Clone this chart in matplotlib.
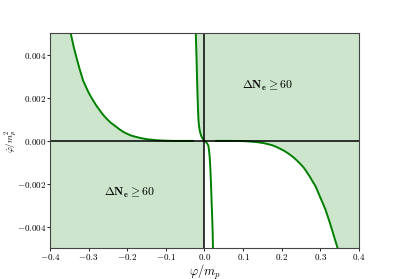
import numpy as np
import matplotlib
matplotlib.use('Agg')
import matplotlib.pyplot as plt
from matplotlib.ticker import FuncFormatter

plt.rcParams['mathtext.fontset'] = 'cm'
plt.rcParams['font.family'] = 'serif'
plt.rcParams['font.serif'] = ['DejaVu Serif']

# curves (phi, phidot)
left_x = [-0.40, -0.346, -0.338, -0.330, -0.322, -0.314, -0.307, -0.300, -0.294, -0.288, -0.279, -0.270, -0.262, -0.253,
          -0.242, -0.230, -0.220, -0.210, -0.200, -0.190, -0.178, -0.167, -0.156, -0.145, -0.134, -0.124, -0.112, -0.100,
          -0.080, -0.060, -0.030]
left_y = [0.0060, 0.0050, 0.00435, 0.0038, 0.00328, 0.00281, 0.00253, 0.00226, 0.00206, 0.00188, 0.00162, 0.00140, 0.00121, 0.00103,
          0.00084, 0.00068, 0.00054, 0.00042, 0.00033, 0.00025, 0.00019, 0.00014, 0.00010, 0.00007, 0.00005, 0.00003, 0.00002, 0.00001,
          0.0, 0.0, 0.0]

steep_x = [-0.0225, -0.0215, -0.0205, -0.0195, -0.0186, -0.0178, -0.0170, -0.0163, -0.0155, -0.0142, -0.0125, -0.0105, -0.0080,
           -0.0050, -0.0020, 0.0, 0.0030, 0.0065, 0.0099, 0.0118, 0.0134, 0.0146, 0.0157, 0.0168, 0.0180, 0.0192, 0.0202, 0.0212, 0.0220]
steep_y = [0.0050, 0.0044, 0.0038, 0.0031, 0.0025, 0.0020, 0.0016, 0.00125, 0.00095, 0.00070, 0.00050, 0.00035, 0.00022,
           0.00011, 0.00003, 0.0, -0.00004, -0.00011, -0.00021, -0.00045, -0.00075, -0.0011, -0.0015, -0.0020, -0.0026, -0.0032, -0.0037, -0.0043, -0.0050]

right_x = [0.030, 0.066, 0.100, 0.120, 0.137, 0.152, 0.164, 0.175, 0.186, 0.195, 0.207, 0.218, 0.229, 0.239, 0.248, 0.257,
           0.265, 0.273, 0.280, 0.287, 0.293, 0.299, 0.306, 0.313, 0.319, 0.325, 0.331, 0.336, 0.340, 0.344, 0.36]
right_y = [0.0, 0.0, -0.00001, -0.00003, -0.00006, -0.0001, -0.00015, -0.0002, -0.00028, -0.00036, -0.00047, -0.0006, -0.00075, -0.00091, -0.00107, -0.00125,
           -0.00146, -0.00168, -0.0019, -0.0021, -0.00235, -0.00261, -0.0029, -0.0032, -0.00352, -0.00385, -0.0042, -0.0045, -0.00473, -0.00497, -0.0060]

xticks = [-0.4, -0.3, -0.2, -0.1, 0.0, 0.1, 0.2, 0.3, 0.4]
yticks = [-0.004, -0.002, 0.0, 0.002, 0.004]
region_label = r'$\mathbf{\Delta N_e \geq 60}$'

fig, ax = plt.subplots(figsize=(3.99, 2.79), dpi=100)
fig.subplots_adjust(left=0.125, right=0.9, top=0.88, bottom=0.11)

fill_kw = dict(color='green', alpha=0.2, lw=0)
n_up = left_y.index(0.0)
m_up = steep_y.index(0.0) + 1
# upper half: left of the left curve, right of the steep curve
ax.fill_betweenx(left_y[:n_up], -0.4, left_x[:n_up], **fill_kw)
ax.fill_between([-0.4, left_x[n_up - 1]], 0, left_y[n_up - 1], **fill_kw)
ax.fill_betweenx(steep_y[:m_up], steep_x[:m_up], 0.4, **fill_kw)
# lower half: everything left of 0, right of the right curve
ax.fill_between([-0.4, 0.0], -0.005, 0, **fill_kw)
ax.fill_betweenx(right_y[1:], right_x[1:], 0.4, **fill_kw)

ax.plot(left_x, left_y, color='green', lw=1.4)
ax.plot(steep_x, steep_y, color='green', lw=1.4)
ax.plot(right_x, right_y, color='green', lw=1.4)

ax.axhline(0, color='black', lw=1.1)
ax.axvline(0, color='black', lw=1.1)

ax.text(0.164, 0.00258, region_label, ha='center', va='center', fontsize=8.5)
ax.text(-0.193, -0.00244, region_label, ha='center', va='center', fontsize=8.5)

ax.set_xlim(-0.4, 0.4)
ax.set_ylim(-0.005, 0.005)
ax.set_xticks(xticks)
ax.set_yticks(yticks)
ax.xaxis.set_major_formatter(FuncFormatter(lambda v, p: r'$%.1f$' % v))
ax.yaxis.set_major_formatter(FuncFormatter(lambda v, p: r'$%.3f$' % v))
ax.tick_params(labelsize=6.5, length=2, width=0.6, pad=0.8)
for s in ax.spines.values():
    s.set_color('#444444')

ax.set_xlabel(r'$\varphi/m_p$', fontsize=9, va='top')
ax.xaxis.set_label_coords(0.5, -0.07)
ax.set_ylabel(r'$\dot{\varphi}/m_p^2$', fontsize=6.5, va='center')
ax.yaxis.set_label_coords(-0.123, 0.5)

plt.savefig('out.png', dpi=100)
